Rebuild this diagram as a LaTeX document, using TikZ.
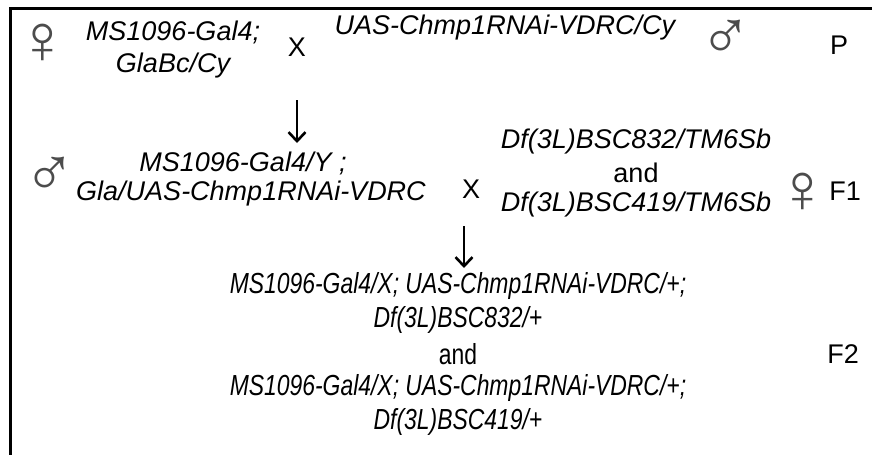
\documentclass[tikz,border=0pt]{standalone}
\usepackage{fontspec}
\setmainfont{Liberation Sans}
\usetikzlibrary{arrows.meta}
\tikzset{
  gen/.style={inner sep=0pt, anchor=center, font=\fontsize{27}{30}\selectfont\itshape},
  gennarrow/.style={inner sep=0pt, anchor=center, font=\fontsize{29}{30}\selectfont\itshape},
  plain/.style={inner sep=0pt, anchor=center, font=\fontsize{27}{30}\selectfont},
  plainnarrow/.style={inner sep=0pt, anchor=center, font=\fontsize{29}{30}\selectfont},
  sex/.style={inner sep=0pt, anchor=center, text=black!70, font=\fontsize{70}{72}\selectfont},
  gen arrow/.style={line width=2.8pt, -{Straight Barb[length=9pt,width=17pt,line width=2.6pt]}},
  frame/.style={line width=3pt}
}
\newcommand{\narrowtext}[1]{\scalebox{0.79}[1]{#1}}
\begin{document}
\begin{tikzpicture}[x=1pt,y=-1pt]
\useasboundingbox (0,0) rectangle (872,455);
\fill[white] (0,0) rectangle (872,455);
% frame
\coordinate (ftr) at (872,8.5);
\coordinate (ftl) at (10.5,8.5);
\coordinate (fbl) at (10.5,455);
\draw[frame] (ftr) -- (ftl) -- (fbl);
% P generation
\node[sex] (pfem) at (43,44) {♀};
\node[gen] (p1a) at (173,32) {MS1096-Gal4;};
\node[gen] (p1b) at (173,66) {GlaBc/Cy};
\node[plain] (px) at (297,47) {X};
\node[gen] (p2) at (505,28) {UAS-Chmp1RNAi-VDRC/Cy};
\node[sex] (pmale) at (726,40) {♂};
\node[plain] (pl) at (839,45) {P};
% arrow 1
\coordinate (a1s) at (297,100);
\coordinate (a1e) at (297,143);
\draw[gen arrow] (a1s) -- (a1e);
% F1 generation
\node[sex] (f1male) at (50,177) {♂};
\node[gen] (f1a) at (243,163) {MS1096-Gal4/Y ;};
\node[gen] (f1b) at (251,194) {Gla/UAS-Chmp1RNAi-VDRC};
\node[plain] (f1x) at (471,189) {X};
\node[gen] (f1c) at (636,142) {Df(3L)BSC832/TM6Sb};
\node[plain] (f1and) at (636,173) {and};
\node[gen] (f1d) at (636,205) {Df(3L)BSC419/TM6Sb};
\node[sex] (f1fem) at (803,193) {♀};
\node[plain] (f1l) at (845,191) {F1};
% arrow 2
\coordinate (a2s) at (464,226);
\coordinate (a2e) at (464,268);
\draw[gen arrow] (a2s) -- (a2e);
% F2 generation
\node[gennarrow] (f2a) at (458,286) {\narrowtext{MS1096-Gal4/X; UAS-Chmp1RNAi-VDRC/+;}};
\node[gennarrow] (f2b) at (458,320) {\narrowtext{Df(3L)BSC832/+}};
\node[plainnarrow] (f2and) at (458,354) {\narrowtext{and}};
\node[gennarrow] (f2c) at (458,388) {\narrowtext{MS1096-Gal4/X; UAS-Chmp1RNAi-VDRC/+;}};
\node[gennarrow] (f2d) at (458,422) {\narrowtext{Df(3L)BSC419/+}};
\node[plain] (f2l) at (843,354) {F2};
\end{tikzpicture}
\end{document}
